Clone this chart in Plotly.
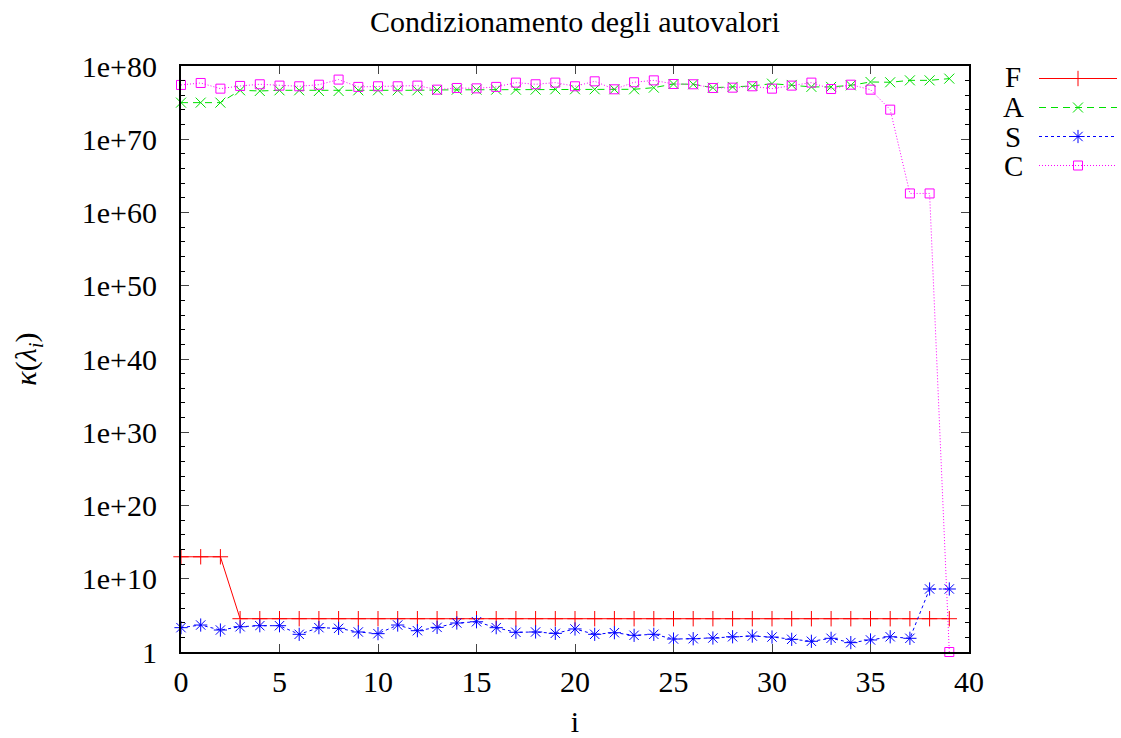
import plotly.graph_objects as go

# ---------------- data ----------------
idx = list(range(40))

F_vals = [1e13, 1e13, 1e13, 3.5e4, 3.5e4, 3.5e4, 3.5e4, 3.5e4, 3.5e4, 3.5e4,
          3.5e4, 3.5e4, 3.5e4, 3.5e4, 3.5e4, 3.5e4, 3.5e4, 3.5e4, 3.5e4, 3.5e4,
          3.5e4, 3.5e4, 3.5e4, 3.5e4, 3.5e4, 3.5e4, 3.5e4, 3.5e4, 3.5e4, 3.5e4,
          3.5e4, 3.5e4, 3.5e4, 3.5e4, 3.5e4, 3.5e4, 3.5e4, 3.5e4, 3.5e4, 3.5e4]

A_vals = [1e75, 1e75, 1e75, 4.8e76, 3.9e76, 4.8e76, 4.8e76, 3.9e76, 3.9e76, 4.8e76,
          4.8e76, 4.8e76, 4.8e76, 5.4e76, 5.9e76, 5.9e76, 5.9e76, 5.9e76, 5.9e76, 6.6e76,
          6.6e76, 6.6e76, 6.6e76, 6.6e76, 1.1e77, 3.5e77, 3.2e77, 1.1e77, 1.4e77, 1.9e77,
          3.9e77, 2.6e77, 1.4e77, 1.4e77, 2.3e77, 6.6e77, 6.0e77, 1.1e78, 1.1e78, 1.9e78]

S_vals = [2.1e3, 4.8e3, 1.0e3, 2.8e3, 3.9e3, 3.9e3, 2.6e2, 2.1e3, 1.7e3, 5.4e2,
          3.2e2, 4.8e3, 8.1e2, 2.3e3, 9.1e3, 1.35e4, 2.1e3, 4.9e2, 5.4e2, 3.5e2,
          1.4e3, 2.6e2, 4.3e2, 1.9e2, 2.6e2, 59, 65, 81, 1.2e2, 1.5e2,
          1.1e2, 54, 29, 74, 19, 44, 1.2e2, 74, 4e8, 4e8]

C_vals = [2.6e77, 4.8e77, 8.1e76, 1.9e77, 3.2e77, 2.1e77, 1.7e77, 2.8e77, 1.4e78, 1.4e77,
          1.7e77, 1.7e77, 2.1e77, 5.9e76, 1.0e77, 8.9e76, 1.4e77, 5.4e77, 3.2e77, 5.4e77,
          1.7e77, 8.1e77, 6.6e76, 6.0e77, 1.1e78, 3.5e77, 3.2e77, 1.0e77, 1.1e77, 1.7e77,
          8.1e76, 2.1e77, 5.4e77, 7.2e76, 2.8e77, 5.9e76, 1.1e74, 4e62, 4e62, 1]

series_names = ["F", "A", "S", "C"]
series_vals = [F_vals, A_vals, S_vals, C_vals]
series_colors = ["#ff0000", "#00e000", "#0000ff", "#ff00ff"]
series_dash = ["solid", "7px,5px", "3px,3px", "1px,2px"]
series_symbol = ["cross-thin", "x-thin", "asterisk", "square-open"]
series_msize = [11, 10, 11, 9]

y_tickvals = [1, 1e10, 1e20, 1e30, 1e40, 1e50, 1e60, 1e70, 1e80]
y_ticktext = ["1", "1e+10", "1e+20", "1e+30", "1e+40", "1e+50", "1e+60", "1e+70", "1e+80"]
x_tickvals = [0, 5, 10, 15, 20, 25, 30, 35, 40]

title_text = "Condizionamento degli autovalori"
xlabel = "i"
ylabel = "<i>κ</i>(<i>λ<sub>i</sub></i>)"

FONT = "Liberation Serif"

W, H = 1121, 738
L, R, T, B = 181, 152, 66, 86
pw, ph = W - L - R, H - T - B


def px(x):
    return (x - L) / pw


def py(y):
    return (H - B - y) / ph


fig = go.Figure()
for name, vals, col, dash, sym, ms in zip(series_names, series_vals, series_colors,
                                          series_dash, series_symbol, series_msize):
    fig.add_trace(go.Scatter(
        x=idx, y=vals, mode="lines+markers", name=" ",
        line=dict(color=col, width=1, dash=dash),
        marker=dict(symbol=sym, size=ms, color=col, line=dict(color=col, width=1)),
        cliponaxis=False,
    ))

ann = []
label_rows = [77, 107, 137, 166]
for name, yr in zip(series_names, label_rows):
    ann.append(dict(text=name, x=px(1013), y=py(yr),
                    xref="paper", yref="paper", showarrow=False,
                    font=dict(family=FONT, size=29, color="black"),
                    xanchor="center", yanchor="middle"))
ann.append(dict(text=title_text, x=px(575), y=py(22), xref="paper", yref="paper",
                showarrow=False, xanchor="center", yanchor="middle",
                font=dict(family=FONT, size=30, color="black")))

fig.update_layout(
    width=W, height=H,
    margin=dict(l=L, r=R, t=T, b=B, autoexpand=False),
    paper_bgcolor="white", plot_bgcolor="white",
    font=dict(family=FONT, size=30, color="black"),
    showlegend=True,
    legend=dict(x=1034 / W, xref="container", xanchor="left",
                y=1 - 59 / H, yref="container", yanchor="top",
                bgcolor="rgba(0,0,0,0)", borderwidth=0, itemwidth=78,
                font=dict(family=FONT, size=20), tracegroupgap=0),
    annotations=ann,
    xaxis=dict(range=[0, 40], tickvals=x_tickvals, ticks="inside", ticklen=8,
               showline=True, linecolor="black", linewidth=2, mirror="allticks",
               showgrid=False, zeroline=False, tickfont=dict(family=FONT, size=30),
               ticklabelstandoff=2,
               title=dict(text=xlabel, font=dict(family=FONT, size=30), standoff=22)),
    yaxis=dict(type="log", range=[0, 80], tickvals=y_tickvals, ticktext=y_ticktext,
               ticks="inside", ticklen=8,
               minor=dict(tickvals=[10.0 ** k for k in range(0, 81, 2)], ticks="inside",
                          ticklen=4, tickcolor="black", showgrid=False),
               showline=True, linecolor="black", linewidth=2, mirror="allticks",
               showgrid=False, zeroline=False, tickfont=dict(family=FONT, size=30),
               ticklabelstandoff=16,
               title=dict(text=ylabel, font=dict(family=FONT, size=30), standoff=36)),
)

fig.write_html("out.html")
